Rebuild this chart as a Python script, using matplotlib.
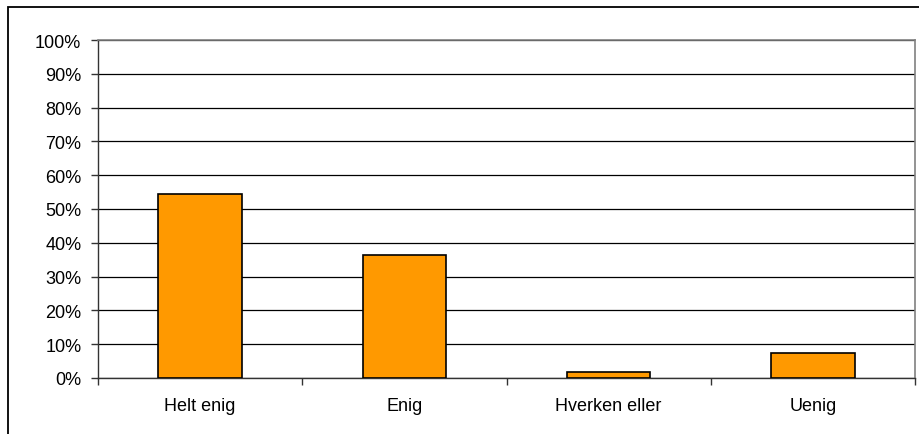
import matplotlib.pyplot as plt
from matplotlib.patches import Rectangle
from matplotlib.ticker import MultipleLocator, FuncFormatter

plt.rcParams['font.family'] = ['Liberation Sans', 'DejaVu Sans']

categories = ["Helt enig", "Enig", "Hverken eller", "Uenig"]
shares = [54.5, 36.4, 1.8, 7.3]

fig = plt.figure(figsize=(9.2, 4.35), dpi=100)
ax = fig.add_axes([98 / 920, (435 - 379) / 435, (915 - 98) / 920, (379 - 41) / 435])

x = list(range(len(categories)))
ax.bar(x, shares, width=0.41, color="#FF9900", edgecolor="black", linewidth=1.2, zorder=3)

ax.set_xlim(-0.5, len(categories) - 0.5)
ax.set_ylim(0, 100)
ax.yaxis.set_major_locator(MultipleLocator(10))
ax.yaxis.set_major_formatter(FuncFormatter(lambda v, _: f"{int(round(v))}%"))
ax.yaxis.grid(True, color="black", linewidth=0.9, zorder=0)

ax.set_xticks(x)
ax.set_xticklabels(categories)
ax.set_xticks([i - 0.5 for i in range(len(categories) + 1)], minor=True)
ax.tick_params(axis="x", which="major", length=0, pad=14, labelsize=13)
ax.tick_params(axis="x", which="minor", length=5, width=1, color="#333333", direction="out")
ax.tick_params(axis="y", length=5, width=1, color="#333333", direction="out", pad=7, labelsize=13)

for side in ("top", "right"):
    ax.spines[side].set_color("#808080")
    ax.spines[side].set_linewidth(1.2)
for side in ("left", "bottom"):
    ax.spines[side].set_color("#333333")
    ax.spines[side].set_linewidth(1.0)

# outer chart frame
fig.patches.append(Rectangle((8 / 920, -0.05), 1.1, (435 - 8) / 435 + 0.05,
                             transform=fig.transFigure, fill=False,
                             edgecolor="black", linewidth=1.3))

fig.savefig("out.png", dpi=100)
